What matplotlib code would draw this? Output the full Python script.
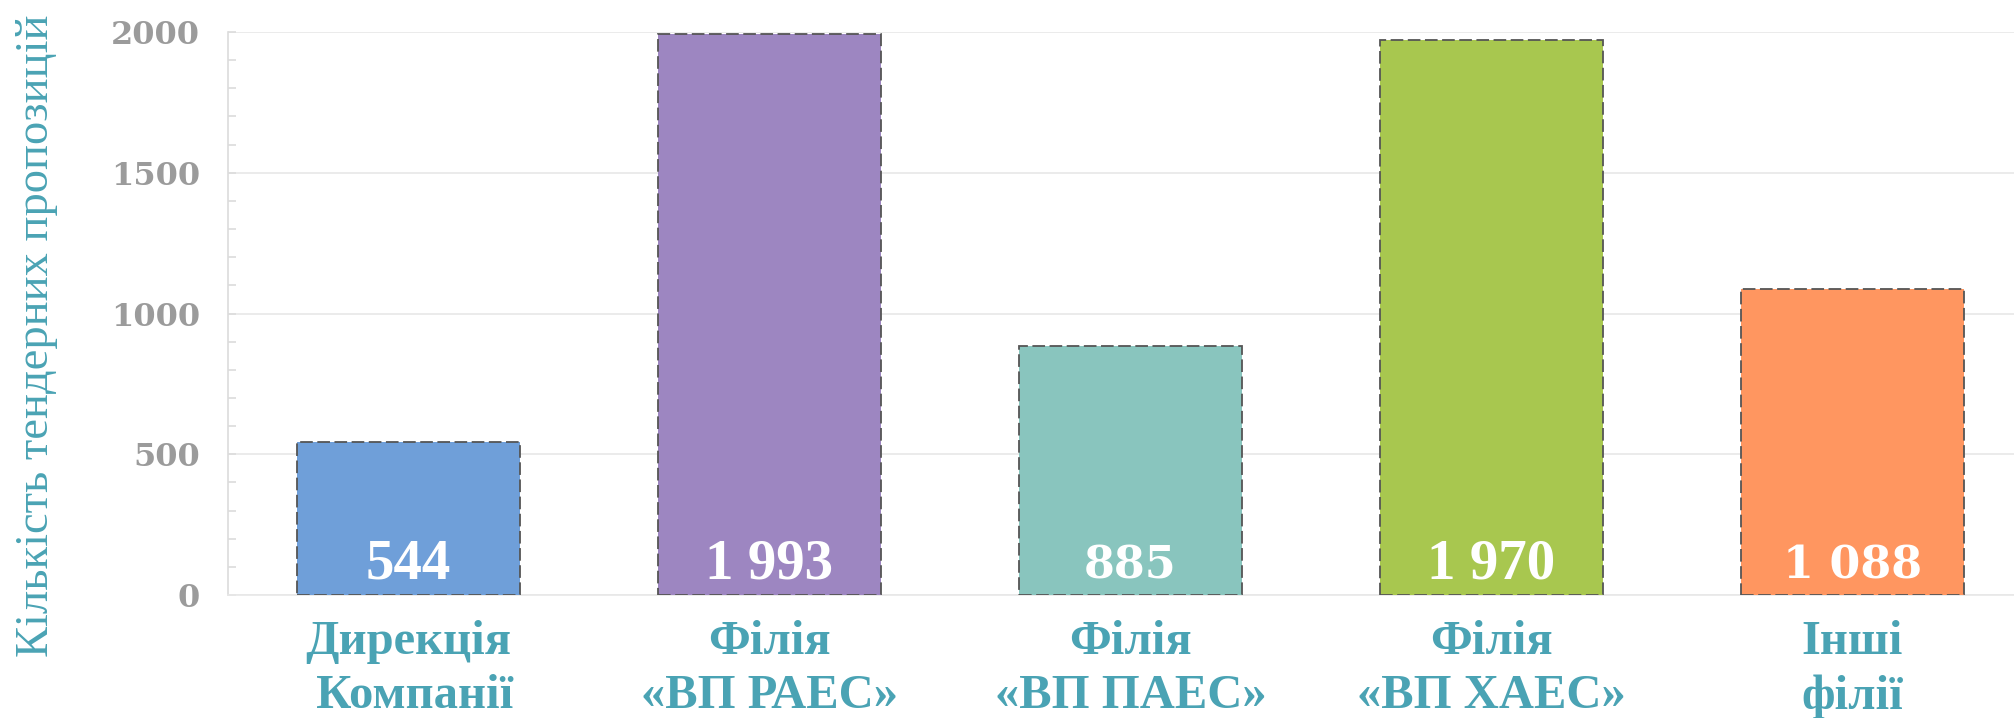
import matplotlib
matplotlib.use("Agg")
import matplotlib.pyplot as plt
from matplotlib.ticker import MultipleLocator

# data
categories = ["Дирекція\n Компанії", "Філія\n«ВП РАЕС»", "Філія\n«ВП ПАЕС»",
              "Філія\n«ВП ХАЕС»", "Інші\nфілії"]
values = [544, 1993, 885, 1970, 1088]
value_labels = ["544", "1 993", "885", "1 970", "1 088"]
colors = ["#6F9FD9", "#9D86C1", "#89C5BE", "#A8C74F", "#FF9660"]
yticks = [0, 500, 1000, 1500, 2000]

teal = "#4AA3B4"
grey_txt = "#9B9B9B"
light = "#DCDCDC"

fig = plt.figure(figsize=(20.15, 7.18), dpi=100)
ax = fig.add_axes([228 / 2015, 1 - 595 / 718, 1 - 228 / 2015, (595 - 32) / 718])

x = range(len(values))
ax.bar(x, values, width=0.62, color=colors, edgecolor="#555555",
       linewidth=1.3, linestyle=(0, (7, 2.5)), zorder=3)

# value labels, white, near the base of each bar
for i, (v, lab) in enumerate(zip(values, value_labels)):
    fam = "DejaVu Serif" if lab in ("885", "1 088") else "Liberation Serif"
    size = 32 if fam == "DejaVu Serif" else 41
    ax.annotate(lab, xy=(i, 0), xytext=(0, 12), textcoords="offset points",
                ha="center", va="baseline", color="white", fontweight="bold",
                family=fam, fontsize=size, zorder=4)

ax.set_xlim(-0.5, 4.45)
ax.set_ylim(0, 2000)
ax.set_yticks(yticks)
ax.yaxis.set_minor_locator(MultipleLocator(100))
ax.set_yticklabels([str(t) for t in yticks], family="DejaVu Serif",
                   fontweight="bold", fontsize=23, color=grey_txt)

ax.set_xticks(list(x))
ax.set_xticklabels(categories, family="Liberation Serif", fontweight="bold",
                   fontsize=35, color=teal, linespacing=1.3)

ax.tick_params(axis="x", length=0, pad=18)
ax.tick_params(axis="y", which="both", direction="in", color=light, width=1.2, pad=20)
ax.tick_params(axis="y", which="major", length=6)
ax.tick_params(axis="y", which="minor", length=6)

ax.grid(axis="y", color="#E8E8E8", linewidth=1.2)
ax.set_axisbelow(True)
for s in ["top", "right"]:
    ax.spines[s].set_visible(False)
ax.spines["left"].set_color(light)
ax.spines["left"].set_linewidth(1.2)
ax.spines["bottom"].set_color("#E8E8E8")
ax.spines["bottom"].set_linewidth(1.2)

fig.text(37 / 2015, 1 - 336 / 718, "Кількість тендерних пропозицій",
         rotation=90, ha="center", va="center", color=teal,
         family="Liberation Serif", fontsize=33.5)

fig.savefig("out.png", dpi=100)
